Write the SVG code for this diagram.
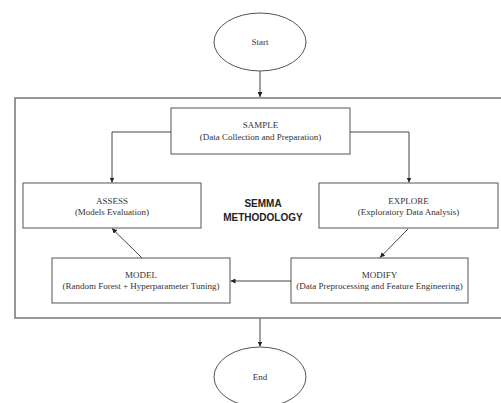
<svg xmlns="http://www.w3.org/2000/svg" width="501" height="403" viewBox="0 0 501 403">
<style>
.box{fill:#fff;stroke:#555;stroke-width:1}
.ell{fill:#fff;stroke:#555;stroke-width:1}
.frame{fill:none;stroke:#777;stroke-width:1.5}
.t{font-family:"Liberation Serif","Times New Roman",serif;font-size:9px;fill:#333;text-anchor:middle}
.title{font-family:"Liberation Sans",Arial,sans-serif;font-size:10px;font-weight:bold;fill:#222;text-anchor:middle}
.conn{fill:none;stroke:#444;stroke-width:1;marker-end:url(#ah)}
</style>
<defs>
<marker id="ah" viewBox="0 0 10 10" refX="10" refY="5" markerWidth="5" markerHeight="5" markerUnits="userSpaceOnUse" orient="auto">
<path d="M0,0 L10,5 L0,10 z" fill="#222"/>
</marker>
</defs>
<rect width="501" height="403" fill="#fff"/>
<g id="frame">
<rect class="frame" x="15" y="98" width="495" height="220"/>
<text class="title" x="263" y="207">SEMMA</text>
<text class="title" x="263" y="221">METHODOLOGY</text>
</g>
<g id="start">
<ellipse class="ell" cx="260" cy="42" rx="46" ry="29"/>
<text class="t" x="260" y="45">Start</text>
</g>
<g id="sample">
<rect class="box" x="171" y="108" width="179" height="46"/>
<text class="t" x="260.5" y="128">SAMPLE</text>
<text class="t" x="260.5" y="139.5">(Data Collection and Preparation)</text>
</g>
<g id="assess">
<rect class="box" x="23" y="183" width="178" height="45"/>
<text class="t" x="112" y="204">ASSESS</text>
<text class="t" x="112" y="215">(Models Evaluation)</text>
</g>
<g id="explore">
<rect class="box" x="319" y="183" width="179" height="45"/>
<text class="t" x="408.5" y="204">EXPLORE</text>
<text class="t" x="408.5" y="215">(Exploratory Data Analysis)</text>
</g>
<g id="model">
<rect class="box" x="52" y="258" width="178" height="45"/>
<text class="t" x="141" y="278">MODEL</text>
<text class="t" x="141" y="289">(Random Forest + Hyperparameter Tuning)</text>
</g>
<g id="modify">
<rect class="box" x="291" y="258" width="177" height="45"/>
<text class="t" x="379.5" y="278">MODIFY</text>
<text class="t" x="379.5" y="289">(Data Preprocessing and Feature Engineering)</text>
</g>
<g id="end">
<ellipse class="ell" cx="260" cy="377" rx="46" ry="30"/>
<text class="t" x="260" y="380">End</text>
</g>
<g id="connectors">
<path class="conn" d="M260,71 L260,97"/>
<path class="conn" d="M171,132 L112,132 L112,182.5"/>
<path class="conn" d="M350,132 L409,132 L409,182.5"/>
<path class="conn" d="M408,229 L380,257.5"/>
<path class="conn" d="M291,281 L230.5,281"/>
<path class="conn" d="M142,258 L112,228.5"/>
<path class="conn" d="M260,318.5 L260,346.5"/>
</g>
</svg>
